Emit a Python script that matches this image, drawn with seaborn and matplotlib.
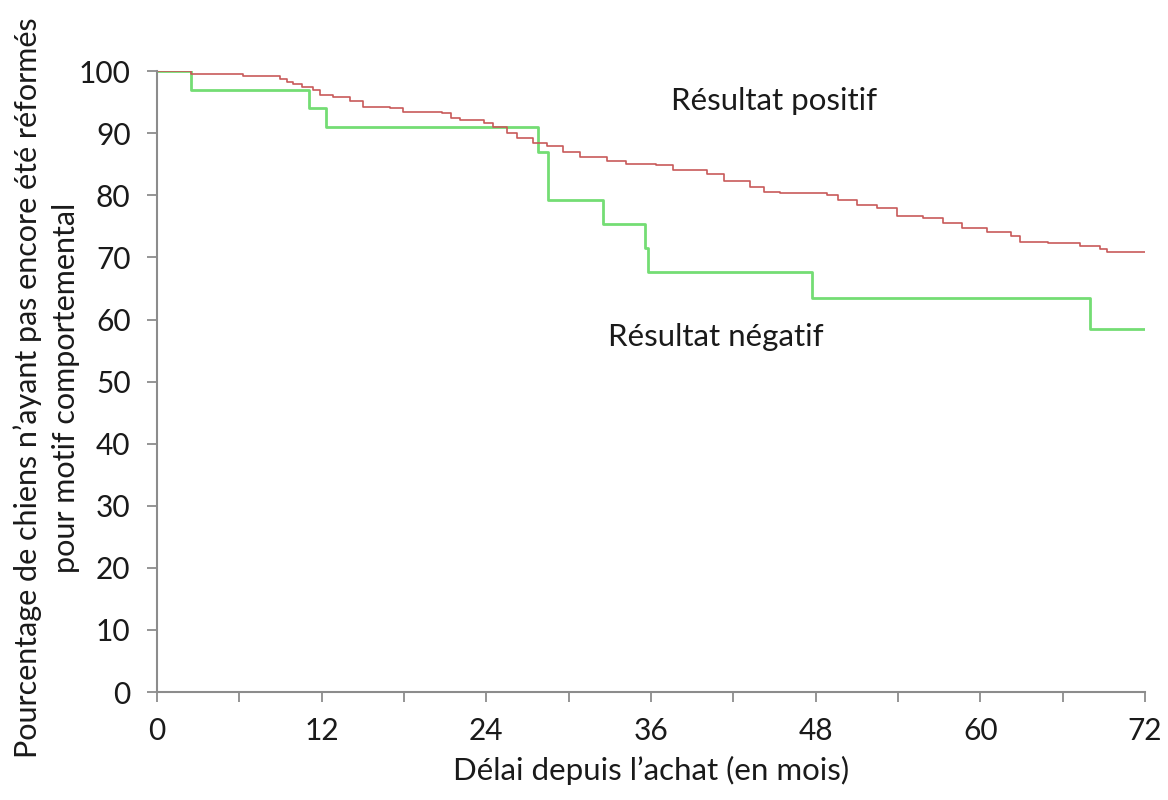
import numpy as np
import pandas as pd
import matplotlib
matplotlib.use("Agg")
import matplotlib.pyplot as plt
import seaborn as sns

# Survival curves (months, percent still kept)
pos_months = [0, 2.5, 6.3, 9.0, 9.5, 9.9, 10.6, 11.4, 11.9, 12.8, 14.1, 15.0, 17.0, 17.9,
              20.8, 21.4, 22.1, 23.8, 24.5, 25.5, 26.2, 27.4, 28.4, 29.6, 30.8, 32.8, 34.2,
              36.4, 37.6, 40.1, 41.3, 43.2, 44.2, 45.4, 48.8, 49.6, 51.0, 52.5, 53.9, 55.8,
              57.3, 58.7, 60.5, 62.2, 62.9, 64.9, 67.3, 68.7, 69.2, 72.0]
pos_pct = [100, 99.6, 99.2, 98.8, 98.2, 97.9, 97.5, 96.9, 96.1, 95.9, 95.2, 94.2, 94.0, 93.4,
           93.3, 92.5, 92.1, 91.6, 91.0, 90.0, 89.3, 88.5, 87.9, 87.0, 86.2, 85.6, 85.0,
           84.9, 84.1, 83.5, 82.3, 81.4, 80.6, 80.3, 80.1, 79.2, 78.4, 77.9, 76.7, 76.3,
           75.6, 74.7, 74.1, 73.4, 72.5, 72.4, 71.8, 71.4, 70.8, 70.8]

neg_months = [0, 2.5, 11.1, 12.3, 27.8, 28.5, 32.5, 35.6, 35.8, 47.7, 68.0, 72.0]
neg_pct = [100, 97.0, 94.0, 91.0, 87.0, 79.3, 75.4, 71.5, 67.6, 63.5, 58.4, 58.4]

df = pd.concat([
    pd.DataFrame({"mois": pos_months, "pct": pos_pct, "groupe": "Résultat positif"}),
    pd.DataFrame({"mois": neg_months, "pct": neg_pct, "groupe": "Résultat négatif"}),
])

sns.set_style("white")
plt.rcParams["font.family"] = ["Lato", "DejaVu Sans"]

fig = plt.figure(figsize=(11.68, 8), dpi=100)
ax = fig.add_axes([0.1344, 0.135, 0.8459, 0.776])

sns.lineplot(data=df, x="mois", y="pct", hue="groupe", drawstyle="steps-post",
             palette={"Résultat positif": "#c85a5a", "Résultat négatif": "#74dd74"},
             estimator=None, sort=False, legend=False, ax=ax)
ax.lines[0].set_linewidth(1.2)
ax.lines[1].set_linewidth(2.0)
ax.lines[1].set_zorder(1)

ax.set_xlim(0, 72)
ax.set_ylim(0, 100)
ax.set_xticks(np.arange(0, 73, 12))
ax.set_xticks(np.arange(0, 73, 6), minor=True)
ax.set_yticks(np.arange(0, 101, 10))

for s in ["top", "right"]:
    ax.spines[s].set_visible(False)
for s in ["left", "bottom"]:
    ax.spines[s].set_color("#8c8c8c")
    ax.spines[s].set_linewidth(1.5)

ax.tick_params(which="both", direction="out", color="#8c8c8c", width=1.3, length=7,
               labelsize=21.5, labelcolor="#1a1a1a", bottom=True, left=True)
ax.tick_params(axis="x", pad=11)
ax.tick_params(axis="y", pad=12)

ax.set_xlabel("Délai depuis l’achat (en mois)", fontsize=22.5, color="#1a1a1a", labelpad=8)
ax.set_ylabel("Pourcentage de chiens n’ayant pas encore été réformés\npour motif comportemental",
              fontsize=22, color="#1a1a1a", linespacing=1.45)
ax.yaxis.set_label_coords(-0.0775, 0.49)

ax.text(45.0, 95.2, "Résultat positif", fontsize=22.5, color="#1a1a1a", ha="center", va="center")
ax.text(40.7, 57.2, "Résultat négatif", fontsize=22.5, color="#1a1a1a", ha="center", va="center")

fig.savefig("out.png", dpi=100, facecolor="white")
